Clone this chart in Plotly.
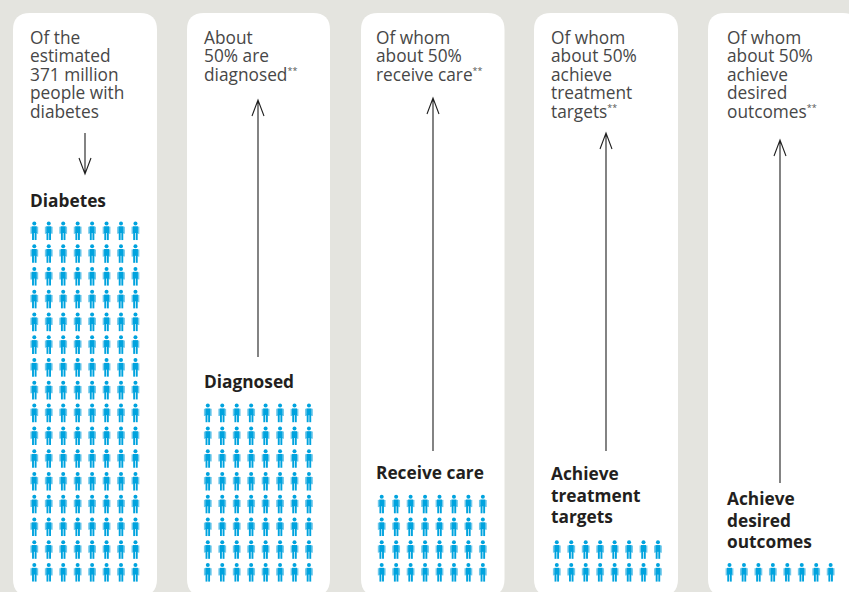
import plotly.graph_objects as go

W, H = 849, 592
FONT = "Open Sans"
INK = "#474747"
BOLD = "#231f20"
BLUE = "#00a3de"
LIGHT = "#72c8ea"

panels = ["Diabetes", "Diagnosed", "Receive care", "Achieve treatment targets", "Achieve desired outcomes"]
rows_of_people = [16, 8, 4, 2, 1]
people_per_row = 8
card_left = [13, 187, 361, 534, 708]
card_right = [157, 330, 504.5, 678, 860]
grid_left = [34.3, 207.8, 381.7, 556.8, 729.5]
STAR = '<sup><span style="font-size:9px;fill:#555555">**</span></sup>'
intro_lines = [
    ["Of the", "estimated", "371 million", "people with", "diabetes"],
    ["About", "50% are", "diagnosed" + STAR],
    ["Of whom", "about 50%", "receive care" + STAR],
    ["Of whom", "about 50%", "achieve", "treatment", "targets" + STAR],
    ["Of whom", "about 50%", "achieve", "desired", "outcomes" + STAR],
]
label_lines = [
    ["Diabetes"],
    ["Diagnosed"],
    ["Receive care"],
    ["Achieve", "treatment", "targets"],
    ["Achieve", "desired", "outcomes"],
]
label_top = [200.5, 381.5, 472.5, 473.5, 498.5]
arrow_x = [85, 258, 433, 606, 780]
arrow_tail = [133, 357, 451, 451, 483]
arrow_tip = [174, 100, 98, 133, 140]
text_x = [28, 202, 374, 549, 725]
col_gap, row_gap, bottom_row = 14.45, 22.77, 572.6

fig = go.Figure()
shapes = []
for l, r in zip(card_left, card_right):
    top, bot, c = 13, 596, 17
    shapes.append(dict(type="path", xref="x", yref="y", layer="below", fillcolor="white", line_width=0,
        path=f"M{l+c},{top} L{r-c},{top} Q{r},{top} {r},{top+c} L{r},{bot-c} Q{r},{bot} {r-c},{bot} "
             f"L{l+c},{bot} Q{l},{bot} {l},{bot-c} L{l},{top+c} Q{l},{top} {l+c},{top} Z"))

for t, b, x in zip(arrow_tail, arrow_tip, arrow_x):
    d = 1 if b > t else -1
    shapes.append(dict(type="path", xref="x", yref="y", line=dict(color="#1f1f1f", width=1.1),
        path=f"M{x},{t} L{x},{b} M{x-6},{b-16*d} L{x},{b} L{x+6},{b-16*d}"))

heads_x, heads_y, torso_x, torso_y, legs_x, legs_y, arms_x, arms_y = [], [], [], [], [], [], [], []
for left, nrows in zip(grid_left, rows_of_people):
    for r in range(nrows):
        top = bottom_row - (nrows - 1 - r) * row_gap
        for c in range(people_per_row):
            x = left + c * col_gap
            heads_x.append(x); heads_y.append(top - 7.6)
            torso_x += [x, x, None]; torso_y += [top - 4.8, top + 2, None]
            for dx in (-1.3, 1.3):
                legs_x += [x + dx, x + dx, None]; legs_y += [top + 1, top + 9, None]
            for dx in (-3.1, 3.1):
                arms_x += [x + dx, x + dx, None]; arms_y += [top - 4.4, top + 2.8, None]

fig.add_trace(go.Scatter(x=arms_x, y=arms_y, mode="lines", line=dict(color=LIGHT, width=1.6), hoverinfo="skip"))
fig.add_trace(go.Scatter(x=torso_x, y=torso_y, mode="lines", line=dict(color=BLUE, width=5.0), hoverinfo="skip"))
fig.add_trace(go.Scatter(x=legs_x, y=legs_y, mode="lines", line=dict(color=BLUE, width=1.9), hoverinfo="skip"))
fig.add_trace(go.Scatter(x=heads_x, y=heads_y, mode="markers",
                         marker=dict(symbol="circle", size=4, color=BLUE, line_width=0), hoverinfo="skip"))

ann = []
for x, lines in zip(text_x, intro_lines):
    for i, s in enumerate(lines):
        ann.append(dict(x=x, y=37 + i * 18.5, text=s, xref="x", yref="y", xanchor="left", yanchor="middle",
                        showarrow=False, font=dict(family=FONT, size=17.3, color=INK)))
for x, y0, lines in zip(text_x, label_top, label_lines):
    for i, s in enumerate(lines):
        ann.append(dict(x=x, y=y0 + i * 21.5, text=f"<b>{s}</b>", xref="x", yref="y", xanchor="left", yanchor="middle",
                        showarrow=False, font=dict(family=FONT, size=17.3, color=BOLD)))

fig.update_layout(width=W, height=H, margin=dict(l=0, r=0, t=0, b=0), showlegend=False,
                  paper_bgcolor="#e4e4df", plot_bgcolor="#e4e4df", shapes=shapes, annotations=ann,
                  xaxis=dict(range=[0, W], visible=False, fixedrange=True),
                  yaxis=dict(range=[H, 0], visible=False, fixedrange=True))
fig.write_html("out.html", config=dict(displayModeBar=False),
               post_script="document.body.style.margin='0';document.body.style.overflow='hidden';")
